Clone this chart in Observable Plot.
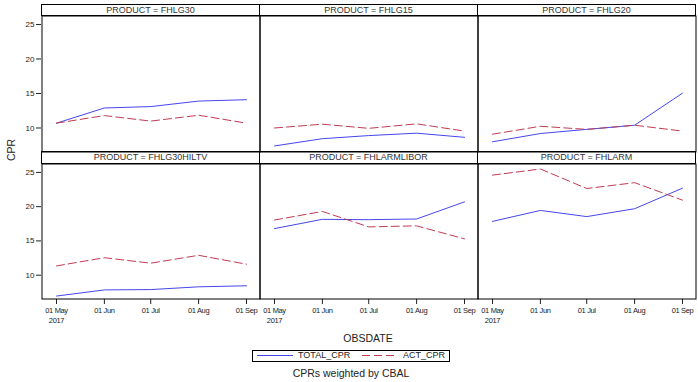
<!DOCTYPE html>
<html><head><meta charset="utf-8">
<script src="https://cdn.jsdelivr.net/npm/d3@7"></script>
<script src="https://cdn.jsdelivr.net/npm/@observablehq/plot@0.6"></script>
<style>
body{margin:0;background:#fff;font-family:"Liberation Sans",Arial,sans-serif;}
#root{position:relative;width:698px;height:382px;overflow:hidden;background:#fff;}
.hdr{position:absolute;box-sizing:border-box;border:1px solid #000;font-size:9px;color:#333;text-align:center;white-space:nowrap;}
.lbl{position:absolute;font-size:10.5px;color:#222;white-space:nowrap;transform:translate(-50%,-50%);}
.legend{position:absolute;box-sizing:border-box;border:1px solid #000;left:252px;top:350px;width:198px;height:12px;font-size:9px;color:#222;}
.legend span{position:absolute;top:0px;line-height:9px;}
.xt text{letter-spacing:-0.35px;}
</style></head><body><div id="root"></div><script>
// ---- data ----
const dates = ["2017-05-01","2017-06-01","2017-07-01","2017-08-01","2017-09-01"];
const products = ["FHLG30","FHLG15","FHLG20","FHLG30HILTV","FHLARMLIBOR","FHLARM"];
const fhlg30Total      = [10.7, 12.9, 13.1, 13.9, 14.1];
const fhlg30Act        = [10.7, 11.8, 11.0, 11.85, 10.7];
const fhlg15Total      = [7.4, 8.45, 8.9, 9.25, 8.65];
const fhlg15Act        = [10.0, 10.55, 9.95, 10.6, 9.55];
const fhlg20Total      = [8.0, 9.2, 9.8, 10.4, 15.05];
const fhlg20Act        = [9.1, 10.25, 9.8, 10.4, 9.55];
const fhlg30hiltvTotal = [6.95, 7.85, 7.9, 8.3, 8.45];
const fhlg30hiltvAct   = [11.35, 12.55, 11.75, 12.9, 11.6];
const fhlarmliborTotal = [16.8, 18.15, 18.1, 18.2, 20.7];
const fhlarmliborAct   = [18.05, 19.3, 17.05, 17.2, 15.3];
const fhlarmTotal      = [17.85, 19.45, 18.55, 19.7, 22.7];
const fhlarmAct        = [24.6, 25.5, 22.65, 23.5, 20.95];
const yTicks = [10, 15, 20, 25];
const xTickLabels = ["01 May\n2017", "01 Jun", "01 Jul", "01 Aug", "01 Sep"];
const seriesNames = ["TOTAL_CPR", "ACT_CPR"];

const totals = [fhlg30Total, fhlg15Total, fhlg20Total, fhlg30hiltvTotal, fhlarmliborTotal, fhlarmTotal];
const acts   = [fhlg30Act, fhlg15Act, fhlg20Act, fhlg30hiltvAct, fhlarmliborAct, fhlarmAct];
const xDates = dates.map(d => new Date(d));

const BLUE = "#4646f0", RED = "#c23a52";
const root = document.getElementById("root");

const colX = [41, 259, 477];
const hdrTop = [4, 151], hdrH = [12, 13];
const plotTop = [15, 163], plotH = [137, 136];

products.forEach((p, i) => {
  const r = Math.floor(i / 3), c = i % 3;
  const rows = xDates.map((d, k) => ({date: d, total: totals[i][k], act: acts[i][k]}));
  const left = c === 0, bottom = r === 1;
  const ml = left ? 41 : 0, mb = bottom ? 34 : 0;
  const marks = [];
  if (left) marks.push(Plot.axisY(yTicks, {tickSize: 5, tickPadding: 2, label: null, fontSize: 8}));
  if (bottom) marks.push(Plot.axisX(xDates, {tickSize: 5, tickPadding: 2, label: null, fontSize: 7.5, lineHeight: 1.3,
      className: "xt", tickFormat: d => xTickLabels[xDates.findIndex(v => +v === +d)]}));
  marks.push(
    Plot.line(rows, {x: "date", y: "total", stroke: BLUE, strokeWidth: 1}),
    Plot.line(rows, {x: "date", y: "act", stroke: RED, strokeWidth: 1, strokeDasharray: "8,4"}),
    Plot.frame({stroke: "#000", strokeWidth: 1, inset: 0.5})
  );
  const svg = Plot.plot({
    width: ml + 219, height: plotH[r] + mb,
    marginLeft: ml, marginRight: 0, marginTop: 0, marginBottom: mb,
    style: {fontFamily: "Liberation Sans, Arial, sans-serif", fontSize: "8px", color: "#222", background: "transparent", overflow: "visible"},
    x: {type: "utc", domain: [xDates[0], xDates[4]], insetLeft: 15, insetRight: 14, axis: bottom ? undefined : null},
    y: {domain: [6.45, 26.3], axis: left ? undefined : null},
    marks
  });
  if (bottom) svg.querySelectorAll('g[aria-label="x-axis tick label"] text').forEach(t => t.style.letterSpacing = "-0.35px");
  svg.style.position = "absolute";
  svg.style.left = (colX[c] - ml) + "px";
  svg.style.top = plotTop[r] + "px";
  root.appendChild(svg);

  const h = document.createElement("div");
  h.className = "hdr";
  h.style.left = colX[c] + "px";
  h.style.top = hdrTop[r] + "px";
  h.style.width = "219px";
  h.style.height = hdrH[r] + "px";
  h.style.lineHeight = (hdrH[r] - 2) + "px";
  h.textContent = "PRODUCT = " + p;
  root.appendChild(h);
});

function label(text, x, y, rot) {
  const d = document.createElement("div");
  d.className = "lbl";
  d.style.left = x + "px"; d.style.top = y + "px";
  if (rot) d.style.transform = "translate(-50%,-50%) rotate(-90deg)";
  d.textContent = text;
  root.appendChild(d);
}
label("CPR", 11, 150, true);
label("OBSDATE", 368, 338);
label("CPRs weighted by CBAL", 351, 373);

// legend
const lg = document.createElement("div");
lg.className = "legend";
lg.innerHTML =
  `<svg width="198" height="12" style="position:absolute;left:-1px;top:-1px">
     <line x1="5" x2="41" y1="5.5" y2="5.5" stroke="${BLUE}" stroke-width="1"/>
     <line x1="110" x2="145" y1="5.5" y2="5.5" stroke="${RED}" stroke-width="1" stroke-dasharray="8,4"/>
   </svg>
   <span style="left:45px">${seriesNames[0]}</span>
   <span style="left:150px">${seriesNames[1]}</span>`;
root.appendChild(lg);
</script></body></html>
